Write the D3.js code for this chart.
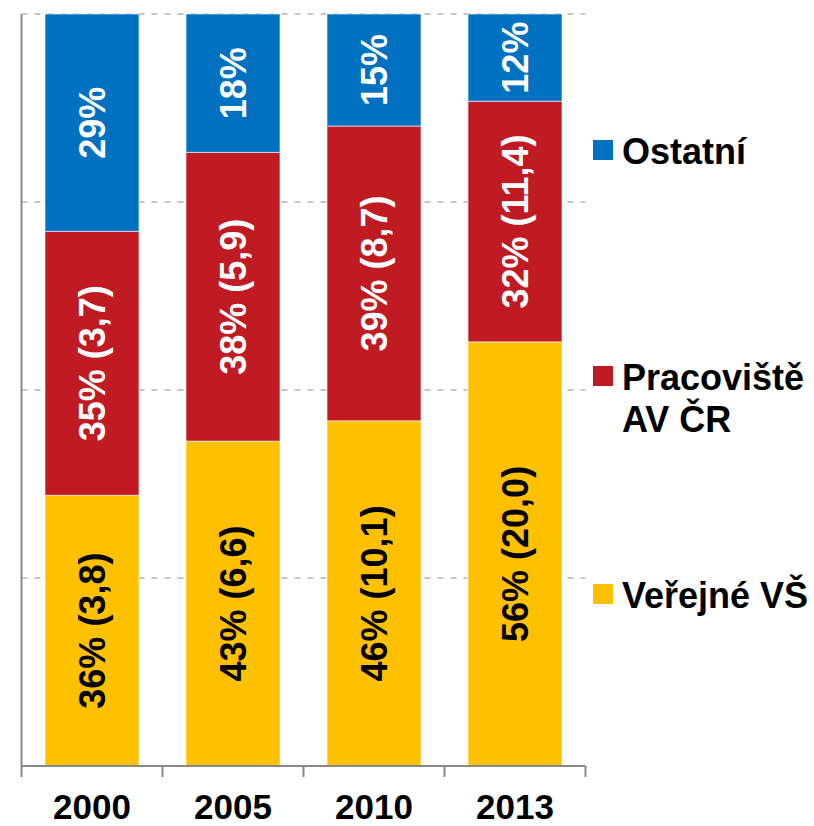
<!DOCTYPE html>
<html>
<head>
<meta charset="utf-8">
<script src="https://cdn.jsdelivr.net/npm/d3@7"></script>
<style>
  body { margin: 0; background: #fff; }
  #chart { width: 814px; height: 826px; }
  text { font-family: "Liberation Sans", Arial, sans-serif; font-weight: bold; }
</style>
</head>
<body>
<div id="chart"></div>
<script>

// years on the x axis
const years = ["2000", "2005", "2010", "2013"];

// shares (fraction of the bar)
const vsShare = [0.360, 0.432, 0.459, 0.564];
const avShare = [0.351, 0.384, 0.392, 0.320];
const otherShare = [0.289, 0.184, 0.149, 0.116];

// texts written in the segments
const vsLabels = ["36% (3,8)", "43% (6,6)", "46% (10,1)", "56% (20,0)"];
const avLabels = ["35% (3,7)", "38% (5,9)", "39% (8,7)", "32% (11,4)"];
const otherLabels = ["29%", "18%", "15%", "12%"];

const seriesNames = ["Veřejné VŠ", "Pracoviště AV ČR", "Ostatní"];
const seriesColors = ["#FFC000", "#C01B23", "#0070C0"];
const labelColors = ["#000", "#fff", "#fff"];
const gridTicks = [0.25, 0.5, 0.75, 1];

/*
  CANVAS
*/
const width = 814;
const height = 826;
const margin = { top: 14, left: 21.5, right: 228.5, bottom: 60 };

const svg = d3.select("#chart")
  .append("svg")
  .attr("width", width)
  .attr("height", height);

/*
  SCALES
*/
const xScale = d3.scaleBand()
  .domain(years)
  .range([margin.left, width - margin.right])
  .paddingInner(1 / 3)
  .paddingOuter(1 / 6);

const yScale = d3.scaleLinear()
  .domain([0, 1])
  .range([height - margin.bottom, margin.top]);

/*
  GRIDLINES
*/
svg.append("g")
  .selectAll("line")
  .data(gridTicks)
  .enter()
  .append("line")
  .attr("x1", margin.left)
  .attr("x2", width - margin.right)
  .attr("y1", d => yScale(d))
  .attr("y2", d => yScale(d))
  .attr("stroke", "#c6c6c6")
  .attr("stroke-width", 2)
  .attr("stroke-dasharray", "6,7");

/*
  STACKED BARS
*/
const rows = years.map((y, i) => ({
  year: y,
  s0: vsShare[i], s1: avShare[i], s2: otherShare[i],
  l0: vsLabels[i], l1: avLabels[i], l2: otherLabels[i]
}));

const stack = d3.stack().keys(["s0", "s1", "s2"]);
const layers = stack(rows);

const layerG = svg.selectAll(".layer")
  .data(layers)
  .enter()
  .append("g")
  .attr("class", "layer");

layerG.selectAll("rect")
  .data(d => d)
  .enter()
  .append("rect")
  .attr("x", d => xScale(d.data.year))
  .attr("width", xScale.bandwidth())
  .attr("y", d => yScale(d[1]))
  .attr("height", d => yScale(d[0]) - yScale(d[1]))
  .attr("fill", function () { return seriesColors[d3.select(this.parentNode).datum().index]; })
  .attr("stroke", "rgba(255,255,255,0.6)")
  .attr("stroke-width", 1);

layerG.selectAll("text")
  .data(d => d.map(p => ({ p: p, k: d.index })))
  .enter()
  .append("text")
  .attr("transform", d => {
    const cx = xScale(d.p.data.year) + xScale.bandwidth() / 2;
    const cy = (yScale(d.p[0]) + yScale(d.p[1])) / 2;
    return `translate(${cx},${cy}) rotate(-90)`;
  })
  .attr("text-anchor", "middle")
  .attr("dy", "0.36em")
  .attr("font-size", 36)
  .attr("fill", d => labelColors[d.k])
  .text(d => d.p.data["l" + d.k]);

/*
  AXES
*/
svg.append("line")
  .attr("x1", margin.left)
  .attr("x2", margin.left)
  .attr("y1", margin.top)
  .attr("y2", height - margin.bottom)
  .attr("stroke", "#888")
  .attr("stroke-width", 2);

const xAxis = svg.append("g")
  .attr("transform", `translate(0,${height - margin.bottom})`);

xAxis.append("line")
  .attr("x1", margin.left)
  .attr("x2", width - margin.right)
  .attr("stroke", "#888")
  .attr("stroke-width", 2);

const bounds = years.map(y => xScale(y) - xScale.step() * xScale.paddingInner() / 2)
  .concat([width - margin.right]);
bounds[0] = margin.left;

xAxis.selectAll(".tick")
  .data(bounds)
  .enter()
  .append("line")
  .attr("x1", d => d)
  .attr("x2", d => d)
  .attr("y1", 0)
  .attr("y2", 11)
  .attr("stroke", "#888")
  .attr("stroke-width", 2);

xAxis.selectAll(".lbl")
  .data(years)
  .enter()
  .append("text")
  .attr("x", d => xScale(d) + xScale.bandwidth() / 2)
  .attr("y", 53)
  .attr("text-anchor", "middle")
  .attr("font-size", 35)
  .attr("fill", "#000")
  .text(d => d);

/*
  LEGEND
*/
const legendItems = [
  { name: ["Ostatní"], color: seriesColors[2], y: 164 },
  { name: ["Pracoviště", "AV ČR"], color: seriesColors[1], y: 390 },
  { name: ["Veřejné VŠ"], color: seriesColors[0], y: 608 }
];

const legend = svg.selectAll(".legend")
  .data(legendItems)
  .enter()
  .append("g")
  .attr("class", "legend");

legend.append("rect")
  .attr("x", 593)
  .attr("y", d => d.y - 24)
  .attr("width", 20)
  .attr("height", 20)
  .attr("fill", d => d.color);

legend.append("text")
  .attr("x", 622)
  .attr("y", d => d.y)
  .attr("font-size", 36)
  .attr("fill", "#000")
  .selectAll("tspan")
  .data(d => d.name)
  .enter()
  .append("tspan")
  .attr("x", 622)
  .attr("dy", (d, i) => i === 0 ? 0 : 42)
  .text(d => d);

</script>
</body>
</html>
